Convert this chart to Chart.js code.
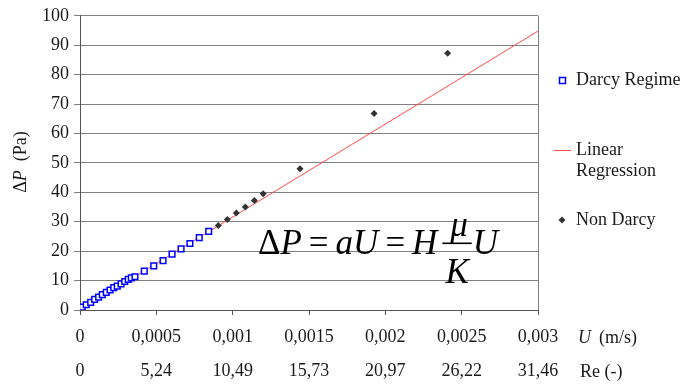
<!DOCTYPE html>
<html>
<head>
<meta charset="utf-8">
<script src="https://cdn.jsdelivr.net/npm/chart.js@4.4.1/dist/chart.umd.min.js"></script>
<style>
  html, body { margin: 0; padding: 0; background: #fff; }
  #wrap { width: 686px; height: 385px; position: relative; }
</style>
</head>
<body>
<div id="wrap"><canvas id="chart"></canvas></div>
<script>
// --- data ---
const uTickValues = [0, 0.0005, 0.001, 0.0015, 0.002, 0.0025, 0.003];
const uTickLabels = ['0', '0,0005', '0,001', '0,0015', '0,002', '0,0025', '0,003'];
const reTickLabels = ['0', '5,24', '10,49', '15,73', '20,97', '26,22', '31,46'];

const darcyU = [0.000015, 0.000041, 0.000070, 0.000096, 0.000122, 0.000146, 0.000172, 0.000197,
  0.000221, 0.000244, 0.000269, 0.000293, 0.000316, 0.000336, 0.000360,
  0.000421, 0.000483, 0.000544, 0.000603, 0.000662, 0.000720, 0.000781, 0.000843];
const darcyDP = [1.0, 1.8, 2.6, 3.6, 4.4, 5.2, 6.0, 6.8, 7.6, 8.1, 8.9, 9.7, 10.4, 10.9, 11.3,
  13.2, 15.0, 16.8, 19.0, 20.8, 22.6, 24.6, 26.7];

const nonDarcyU = [0.000906, 0.000965, 0.001024, 0.001083, 0.001142, 0.0012, 0.001441, 0.001926, 0.002408];
const nonDarcyDP = [28.7, 30.8, 33.0, 35.0, 37.2, 39.5, 48.0, 66.8, 87.3];

const regressionU = [0, 0.003];
const regressionDP = [0, 94.8];

const FONT = "'Liberation Serif', 'Times New Roman', serif";
const TEXT = '#1a1a1a';

const toPoints = (xs, ys) => xs.map((x, i) => ({ x: x, y: ys[i] }));

// frame, axis titles, legend and the formula
const decorations = {
  id: 'decorations',
  beforeDatasetsDraw(chart) {
    const { ctx, chartArea: a } = chart;
    ctx.save();
    ctx.strokeStyle = '#808080';
    ctx.lineWidth = 1;
    ctx.beginPath();
    ctx.moveTo(Math.round(a.right) + 0.5, a.top);
    ctx.lineTo(Math.round(a.right) + 0.5, a.bottom);
    ctx.stroke();
    ctx.restore();
  },
  afterDraw(chart) {
    const { ctx } = chart;
    ctx.save();
    ctx.fillStyle = TEXT;
    ctx.textBaseline = 'middle';

    // y title: ΔP (Pa)
    ctx.save();
    ctx.translate(21, 162);
    ctx.rotate(-Math.PI / 2);
    const parts = [['Δ', '18px ' + FONT], ['P', 'italic 18px ' + FONT], ['  (Pa)', '18px ' + FONT]];
    let total = 0;
    parts.forEach(p => { ctx.font = p[1]; total += ctx.measureText(p[0]).width; });
    let x = -total / 2;
    ctx.textAlign = 'left';
    parts.forEach(p => { ctx.font = p[1]; ctx.fillText(p[0], x, 0); x += ctx.measureText(p[0]).width; });
    ctx.restore();

    // x titles
    ctx.textAlign = 'left';
    ctx.font = 'italic 18px ' + FONT;
    ctx.fillText('U', 578, 338);
    ctx.font = '18px ' + FONT;
    ctx.fillText('(m/s)', 599, 338);
    ctx.fillText('Re (-)', 580, 372);

    // legend
    ctx.font = '18px ' + FONT;
    ctx.fillText('Darcy Regime', 576, 80);
    ctx.fillText('Linear', 576, 150);
    ctx.fillText('Regression', 576, 171);
    ctx.fillText('Non Darcy', 576, 220);
    ctx.strokeStyle = '#0000ff';
    ctx.lineWidth = 1.5;
    ctx.fillStyle = '#fff';
    ctx.fillRect(559.5, 77.5, 6, 6);
    ctx.strokeRect(559.5, 77.5, 6, 6);
    ctx.strokeStyle = '#ff4a4a';
    ctx.lineWidth = 1;
    ctx.beginPath();
    ctx.moveTo(554, 150.5);
    ctx.lineTo(571, 150.5);
    ctx.stroke();
    ctx.fillStyle = '#333';
    ctx.beginPath();
    ctx.moveTo(562, 216.5); ctx.lineTo(565.5, 220); ctx.lineTo(562, 223.5); ctx.lineTo(558.5, 220);
    ctx.closePath();
    ctx.fill();

    // formula ΔP = aU = H μ/K U
    ctx.fillStyle = '#000';
    ctx.textBaseline = 'alphabetic';
    const up = '35px ' + FONT, it = 'italic 35px ' + FONT;
    const seq = [['Δ', up, 0], ['P', it, 7], ['=', up, 7], ['a', it, 0], ['U', it, 7],
      ['=', up, 7], ['H', it, 5], ['frac', it, 1], ['U', it, 0]];
    const w = (s, f) => { ctx.font = f; return ctx.measureText(s).width; };
    const fracW = Math.max(w('μ', it), w('K', it)) + 6;
    let full = 0;
    seq.forEach(s => { full += (s[0] === 'frac' ? fracW : w(s[0], s[1])) + s[2]; });
    let fx = 378 - full / 2;
    const base = 254;
    seq.forEach(s => {
      if (s[0] === 'frac') {
        ctx.font = it;
        ctx.textAlign = 'center';
        ctx.fillText('μ', fx + fracW / 2 + 2, 236);
        ctx.fillText('K', fx + fracW / 2, 283);
        ctx.fillRect(fx, 242.5, fracW, 1.6);
        ctx.textAlign = 'left';
        fx += fracW + s[2];
      } else {
        ctx.font = s[1];
        ctx.fillText(s[0], fx, base);
        fx += ctx.measureText(s[0]).width + s[2];
      }
    });
    ctx.restore();
  }
};

new Chart(document.getElementById('chart'), {
  type: 'scatter',
  data: {
    datasets: [
      {
        label: 'Darcy Regime',
        data: toPoints(darcyU, darcyDP),
        pointStyle: 'rect',
        pointRadius: 4,
        pointBorderWidth: 1.5,
        borderColor: '#0000ff',
        backgroundColor: '#ffffff',
        order: 1
      },
      {
        label: 'Non Darcy',
        data: toPoints(nonDarcyU, nonDarcyDP),
        pointStyle: 'rectRot',
        pointRadius: 3.5,
        pointBorderWidth: 0,
        borderColor: '#333',
        backgroundColor: '#333',
        order: 2
      },
      {
        label: 'Linear Regression',
        data: toPoints(regressionU, regressionDP),
        showLine: true,
        pointRadius: 0,
        borderColor: '#ff4a4a',
        borderWidth: 1,
        order: 3
      }
    ]
  },
  options: {
    responsive: true,
    maintainAspectRatio: false,
    animation: false,
    layout: { padding: { left: 0, right: 148, top: 15, bottom: 0 } },
    plugins: { legend: { display: false }, tooltip: { enabled: false } },
    scales: {
      x: {
        type: 'linear',
        min: 0, max: 0.003,
        afterBuildTicks: s => { s.ticks = uTickValues.map(v => ({ value: v })); },
        afterFit: s => { s.height = 75; },
        grid: { drawOnChartArea: false, tickLength: 5, color: '#555' },
        border: { color: '#555' },
        ticks: {
          maxRotation: 0, autoSkip: false, padding: 5,
          color: TEXT,
          font: { family: FONT, size: 18, lineHeight: 1.89 },
          callback: (v, i) => [uTickLabels[i], reTickLabels[i]]
        }
      },
      y: {
        min: 0, max: 100,
        afterFit: s => { s.width = 80; },
        grid: { color: '#808080', tickLength: 6 },
        border: { color: '#555' },
        ticks: { stepSize: 10, padding: 5, color: TEXT, font: { family: FONT, size: 18 } }
      }
    }
  },
  plugins: [decorations]
});
</script>
</body>
</html>
